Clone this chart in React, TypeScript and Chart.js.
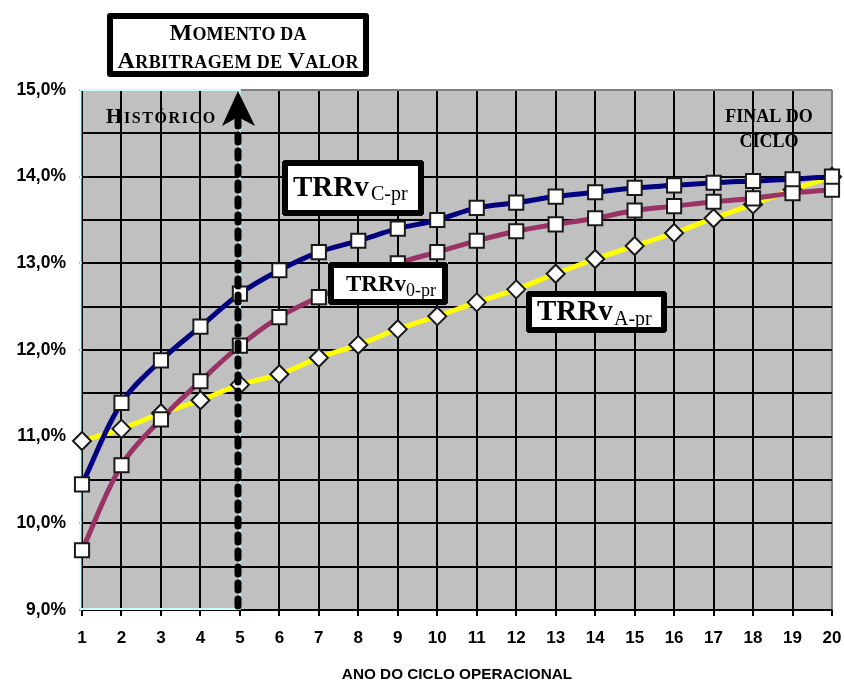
import React, { useEffect, useRef } from "react";
import { Chart, registerables } from "chart.js";

Chart.register(...registerables);

const years = [1, 2, 3, 4, 5, 6, 7, 8, 9, 10, 11, 12, 13, 14, 15, 16, 17, 18, 19, 20];
const trrvC = [10.45, 11.39, 11.88, 12.27, 12.65, 12.92, 13.13, 13.26, 13.4, 13.5, 13.64, 13.7, 13.77, 13.82, 13.87, 13.9, 13.93, 13.95, 13.97, 14.0];
const trrv0 = [9.69, 10.67, 11.2, 11.64, 12.05, 12.38, 12.61, 12.8, 13.0, 13.13, 13.26, 13.37, 13.45, 13.52, 13.61, 13.66, 13.71, 13.75, 13.81, 13.85];
const trrvA = [10.95, 11.09, 11.27, 11.42, 11.6, 11.72, 11.91, 12.06, 12.24, 12.39, 12.55, 12.7, 12.88, 13.05, 13.2, 13.35, 13.52, 13.68, 13.85, 14.0];
const yMin = 9;
const yMax = 15;
const arbitrageYear = 5;
const xTitle = "ANO DO CICLO OPERACIONAL";

const SERIF = '"Liberation Serif", "Times New Roman", serif';
const SANS = '"Liberation Sans", Arial, sans-serif';

type Run = { t: string; s: number; w?: string; f?: string };

function drawRuns(ctx: CanvasRenderingContext2D, runs: Run[], x: number, y: number, align: "left" | "center", spacing: number) {
  const widths: number[] = [];
  let total = 0;
  for (const r of runs) {
    ctx.font = `${r.w ?? "bold"} ${r.s}px ${r.f ?? SERIF}`;
    for (const ch of r.t) {
      const w = ctx.measureText(ch).width;
      widths.push(w);
      total += w + spacing;
    }
  }
  total -= spacing;
  let cx = align === "center" ? x - total / 2 : x;
  let i = 0;
  ctx.textAlign = "left";
  ctx.textBaseline = "alphabetic";
  ctx.fillStyle = "#000";
  for (const r of runs) {
    ctx.font = `${r.w ?? "bold"} ${r.s}px ${r.f ?? SERIF}`;
    for (const ch of r.t) {
      ctx.fillText(ch, cx, y);
      cx += widths[i++] + spacing;
    }
  }
}

function box(ctx: CanvasRenderingContext2D, x0: number, y0: number, x1: number, y1: number, bw: number) {
  ctx.save();
  ctx.fillStyle = "#fff";
  ctx.fillRect(x0, y0, x1 - x0, y1 - y0);
  ctx.strokeStyle = "#000";
  ctx.lineWidth = bw;
  ctx.lineJoin = "round";
  ctx.strokeRect(x0 + bw / 2, y0 + bw / 2, x1 - x0 - bw, y1 - y0 - bw);
  ctx.restore();
}

const decorPlugin = {
  id: "decor",
  beforeDraw(chart: any) {
    const { ctx, chartArea: a } = chart;
    ctx.save();
    ctx.fillStyle = "#fff";
    ctx.fillRect(0, 0, chart.width, chart.height);
    ctx.fillStyle = "#C0C0C0";
    ctx.fillRect(a.left, a.top, a.right - a.left, a.bottom - a.top);
    ctx.restore();
  },
  beforeDatasetsDraw(chart: any) {
    const { ctx, chartArea: a, scales } = chart;
    const xs = scales.x;
    const x5 = xs.getPixelForValue(arbitrageYear);
    ctx.save();
    ctx.strokeStyle = "#CCFFFF";
    ctx.lineWidth = 2;
    ctx.strokeRect(a.left - 1.5, a.top, x5 - a.left + 1.5, a.bottom - a.top - 1);
    ctx.restore();
    ctx.save();
    drawRuns(ctx, [{ t: "H", s: 21 }, { t: "ISTÓRICO", s: 16 }], a.left + 24, 123, "left", 1.6);
    drawRuns(ctx, [{ t: "FINAL DO", s: 18 }], 769, 122, "center", 0);
    drawRuns(ctx, [{ t: "CICLO", s: 18 }], 769, 147, "center", 0);
    ctx.restore();
  },
  afterDatasetsDraw(chart: any) {
    const { ctx, chartArea: a, scales } = chart;
    const xs = scales.x;
    const x5 = Math.round(xs.getPixelForValue(arbitrageYear)) - 2;
    ctx.save();
    ctx.strokeStyle = "#000";
    ctx.lineWidth = 7;
    ctx.lineCap = "round";
    ctx.setLineDash([7, 9]);
    ctx.beginPath();
    ctx.moveTo(x5, a.bottom - 4);
    ctx.lineTo(x5, a.top + 30);
    ctx.stroke();
    ctx.setLineDash([]);
    ctx.fillStyle = "#000";
    ctx.beginPath();
    ctx.moveTo(x5, a.top + 1);
    ctx.lineTo(x5 + 17, a.top + 36);
    ctx.lineTo(x5, a.top + 27);
    ctx.lineTo(x5 - 16, a.top + 36);
    ctx.closePath();
    ctx.fill();
    ctx.restore();

    box(ctx, 282, 160, 424, 216, 6);
    drawRuns(ctx, [{ t: "TRRv", s: 29 }], 293, 196, "left", 0);
    drawRuns(ctx, [{ t: "C-pr", s: 20, w: "normal" }], 371, 200, "left", 0);

    box(ctx, 328, 262, 448, 305, 6);
    drawRuns(ctx, [{ t: "TRRv", s: 23 }], 346, 291, "left", 0);
    drawRuns(ctx, [{ t: "0-pr", s: 18, w: "normal" }], 406, 296, "left", 0);

    box(ctx, 526, 291, 667, 333, 6);
    drawRuns(ctx, [{ t: "TRRv", s: 29 }], 537, 320, "left", 0);
    drawRuns(ctx, [{ t: "A-pr", s: 20, w: "normal" }], 614, 325, "left", 0);

    box(ctx, 107, 13, 369, 77, 6);
    drawRuns(ctx, [{ t: "M", s: 24 }, { t: "OMENTO DA", s: 18 }], 238, 40, "center", 0.2);
    drawRuns(
      ctx,
      [{ t: "A", s: 24 }, { t: "RBITRAGEM DE ", s: 18 }, { t: "V", s: 24 }, { t: "ALOR", s: 18 }],
      238,
      68,
      "center",
      0.4
    );
  },
};

function isInt(v: number) {
  return Math.abs(v - Math.round(v)) < 1e-6;
}

export default function App() {
  const ref = useRef<HTMLCanvasElement | null>(null);
  useEffect(() => {
    if (!ref.current) return;
    const mk = (vals: number[]) => years.map((x, i) => ({ x, y: vals[i] }));
    const common = {
      borderWidth: 5,
      tension: 0.35,
      pointBackgroundColor: "#fff",
      pointBorderColor: "#1a1a1a",
      pointBorderWidth: 2,
      clip: false as any,
    };
    const chart = new Chart(ref.current, {
      type: "line",
      data: {
        datasets: [
          { ...common, label: "TRRv C-pr", data: mk(trrvC), borderColor: "#000080", pointStyle: "rect", pointRadius: 10 },
          { ...common, label: "TRRv 0-pr", data: mk(trrv0), borderColor: "#993366", pointStyle: "rect", pointRadius: 10 },
          { ...common, label: "TRRv A-pr", data: mk(trrvA), borderColor: "#FFFF00", pointStyle: "rectRot", pointRadius: 9 },
        ],
      },
      options: {
        responsive: false,
        maintainAspectRatio: false,
        animation: false,
        events: [],
        layout: { padding: { left: 0, right: 12, top: 90, bottom: 0 } },
        plugins: { legend: { display: false }, tooltip: { enabled: false } },
        scales: {
          x: {
            type: "linear",
            min: years[0],
            max: years[years.length - 1],
            afterFit: (s: any) => {
              s.height = 74;
              s.paddingLeft = 0;
              s.paddingRight = 0;
            },
            border: { display: false },
            grid: {
              color: (c: any) => (c.tick && c.tick.value === years[years.length - 1] ? "#808080" : "#000"),
              lineWidth: 2,
              tickLength: 6,
              tickColor: "#000",
              tickWidth: 2,
            },
            ticks: {
              stepSize: 1,
              autoSkip: false,
              maxRotation: 0,
              padding: 12,
              color: "#000",
              font: { family: SANS, size: 17, weight: "bold" },
              callback: (v: any) => String(v),
            },
            title: {
              display: true,
              text: xTitle,
              color: "#000",
              padding: 0,
              font: { family: SANS, size: 15.3, weight: "bold" },
            },
          },
          y: {
            type: "linear",
            min: yMin,
            max: yMax,
            afterFit: (s: any) => {
              s.width = 82;
              s.paddingTop = 0;
              s.paddingBottom = 0;
            },
            border: { display: false },
            grid: {
              color: (c: any) => (c.tick && c.tick.value === yMax ? "#808080" : "#000"),
              lineWidth: 2,
              tickLength: 3,
              tickColor: (c: any) => (c.tick && isInt(c.tick.value) ? "#808080" : "rgba(0,0,0,0)"),
            },
            ticks: {
              stepSize: 0.5,
              padding: 13,
              color: "#000",
              font: { family: SANS, size: 17.5, weight: "bold" },
              callback: (v: any) => (isInt(Number(v)) ? Number(v).toFixed(1).replace(".", ",") + "%" : ""),
            },
          },
        },
      },
      plugins: [decorPlugin],
    } as any);
    return () => chart.destroy();
  }, []);
  return (
    <div style={{ position: "fixed", left: 0, top: 0, width: 844, height: 684, background: "#fff" }}>
      <canvas ref={ref} width={844} height={684} style={{ display: "block", width: 844, height: 684 }} />
    </div>
  );
}
